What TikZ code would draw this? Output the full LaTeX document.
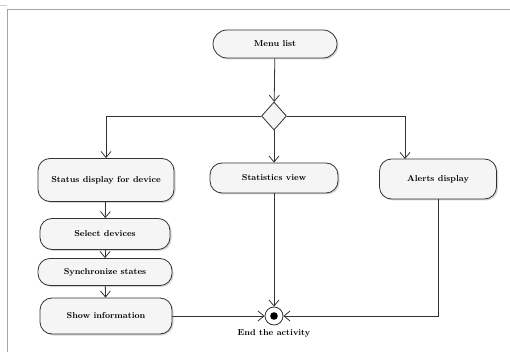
\documentclass[tikz,border=0pt]{standalone}
\usetikzlibrary{positioning, arrows.meta, calc, shapes.geometric, shadows}

\begin{document}
\begin{tikzpicture}[
    x=1pt, y=-1pt,
    font=\fontsize{8.6}{10}\selectfont\bfseries,
    % Styles
    act/.style={draw=black!80, thick, rounded corners=12pt, fill=gray!8, inner sep=2pt,
        drop shadow={shadow xshift=1.5pt, shadow yshift=-1.5pt, fill=gray!45, opacity=0.7}},
    choice/.style={diamond, draw=black!80, thick, fill=gray!8, minimum width=25pt, minimum height=28pt, inner sep=0pt},
    arrow/.style={-{Straight Barb[length=6pt, width=10pt]}, thick, draw=black!80},
    line/.style={thick, draw=black!80}
]
    \useasboundingbox (0,0) rectangle (510,352);

    % --- Frame ---
    \draw[gray!70, thick] (7,352) -- (7,9) -- (510,9);
    \draw[gray!40] (0,5) -- (7,5);

    % --- Start ---
    \node[act, minimum width=124pt, minimum height=28pt, rounded corners=14pt] (menu) at (275,44) {Menu list};
    \node[choice] (branch) at (274,116) {};

    % --- Activities ---
    \node[act, minimum width=136pt, minimum height=43pt] (status) at (106,180) {Status display for device};
    \node[act, minimum width=128pt, minimum height=30pt] (stats) at (274,178) {Statistics view};
    \node[act, minimum width=117pt, minimum height=40pt] (alerts) at (438,179) {Alerts display};
    \coordinate (alertsin) at (405,159);

    \node[act, minimum width=130pt, minimum height=31pt] (select) at (105,234) {Select devices};
    \node[act, minimum width=134pt, minimum height=27pt] (sync) at (105,272) {Synchronize states};
    \node[act, minimum width=132pt, minimum height=36pt] (show) at (106,316) {Show information};

    % --- End ---
    \node[circle, draw=black!80, thick, fill=white, minimum size=18pt, inner sep=0pt] (done) at (274,316) {};
    \fill[black] (done) circle (3.8pt);
    \node[below=1pt of done] (donelabel) {End the activity};

    % --- Flows ---
    \draw[arrow] (menu) -- (branch);
    \draw[arrow] (branch.west) -| (status.north);
    \draw[arrow] (branch.south) -- (stats.north);
    \draw[arrow] (branch.east) -| (alertsin);

    \draw[arrow] (status) -- (select);
    \draw[arrow] (select) -- (sync);
    \draw[arrow] (sync) -- (show);

    \draw[arrow] (show.east) -- (done.west);
    \draw[arrow] (stats.south) -- (done.north);
    \draw[arrow] (alerts.south) |- (done.east);

\end{tikzpicture}
\end{document}
